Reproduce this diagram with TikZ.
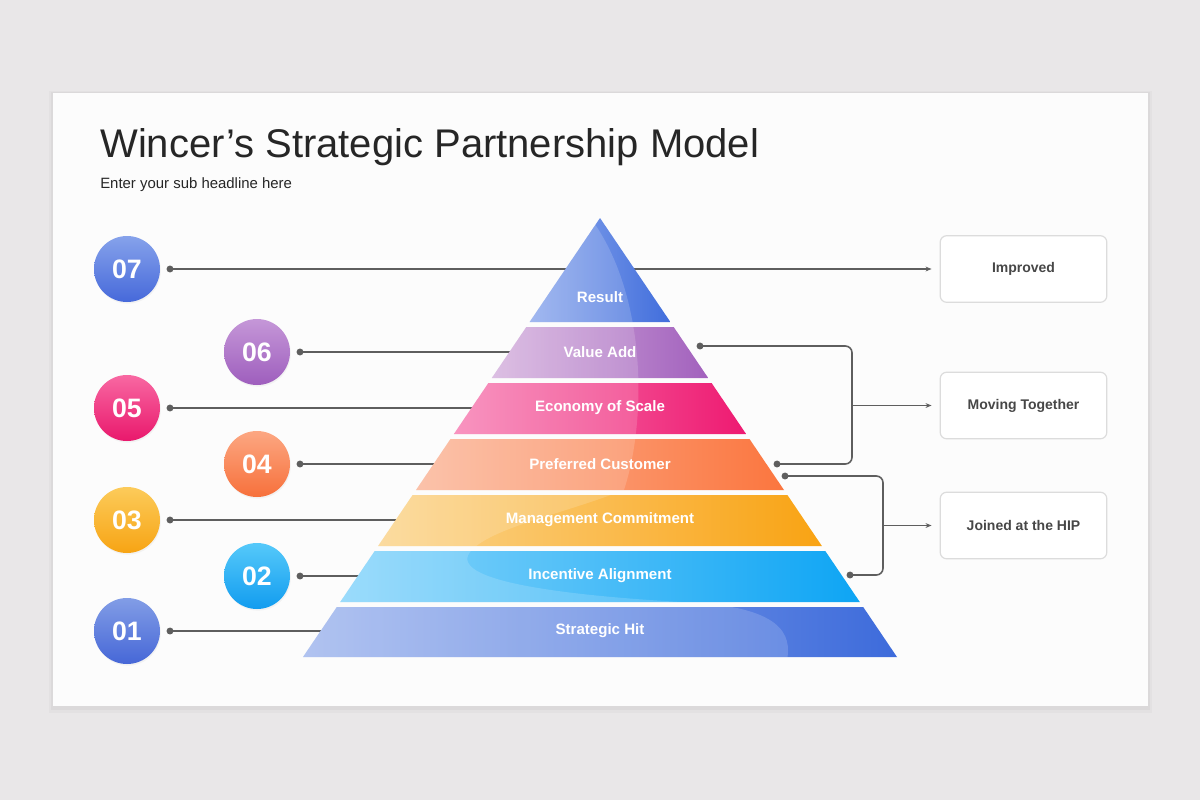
\documentclass[tikz,border=0pt]{standalone}
\usepackage{fontspec}
\setmainfont{Liberation Sans}
\usetikzlibrary{arrows.meta, positioning, shadows}

\definecolor{pagebg}{HTML}{E9E7E8}
\definecolor{titlegray}{HTML}{262626}
\definecolor{linegray}{HTML}{5E5E5E}
\definecolor{boxline}{HTML}{DCDCDC}
\definecolor{boxtext}{HTML}{474747}
% couleurs des etages (clair / fonce)
\definecolor{resL}{HTML}{90ABED}\definecolor{resD}{HTML}{416EDC}
\definecolor{valL}{HTML}{D6B3DE}\definecolor{valD}{HTML}{A261BD}
\definecolor{ecoL}{HTML}{F780B4}\definecolor{ecoD}{HTML}{EE1A71}
\definecolor{prefL}{HTML}{FBB79A}\definecolor{prefD}{HTML}{FB763F}
\definecolor{mgmtL}{HTML}{FBD58E}\definecolor{mgmtD}{HTML}{F9A313}
\definecolor{incL}{HTML}{88D5FB}\definecolor{incD}{HTML}{0EA5F4}
\definecolor{hitL}{HTML}{A2B8EE}\definecolor{hitD}{HTML}{3D6BDB}
% couleurs des pastilles
\definecolor{c7L}{HTML}{86A2EB}\definecolor{c7D}{HTML}{4669DA}
\definecolor{c6L}{HTML}{C597D8}\definecolor{c6D}{HTML}{9E5EBD}
\definecolor{c5L}{HTML}{F868A2}\definecolor{c5D}{HTML}{E9186C}
\definecolor{c4L}{HTML}{FCA782}\definecolor{c4D}{HTML}{F7703B}
\definecolor{c3L}{HTML}{FCCB5A}\definecolor{c3D}{HTML}{F7A414}
\definecolor{c2L}{HTML}{55C9FA}\definecolor{c2D}{HTML}{129CEF}
\definecolor{c1L}{HTML}{829DE6}\definecolor{c1D}{HTML}{4667D7}

\begin{document}
\begin{tikzpicture}[
    x=0.75pt, y=-0.75pt,
    numcirc/.style={circle, minimum size=49.5pt, inner sep=0pt, text=white,
        font=\bfseries\fontsize{20}{20}\selectfont, shading angle=45,
        drop shadow={shadow xshift=0.6pt, shadow yshift=-1.2pt, opacity=0.08}},
    bandtext/.style={text=white, font=\bfseries\fontsize{11.3}{12}\selectfont},
    outbox/.style={rectangle, draw=boxline, line width=0.9pt, rounded corners=5pt, fill=white,
        minimum width=125pt, minimum height=50pt, text=boxtext, font=\bfseries\fontsize{10.5}{12}\selectfont},
    link/.style={draw=linegray, line width=1.2pt},
    arrow/.style={link, -{Stealth[length=4.5pt, width=3.6pt]}, shorten >=6pt},
    dot/.style={fill=linegray}
]

% fond et carte
\fill[pagebg] (0,0) rectangle (1200,800);
\fill[black, opacity=0.025] (49,91) rectangle (1152,713);
\fill[black, opacity=0.03] (51,92) rectangle (1150,710);
\fill[white!99!black] (53,93) rectangle (1148,706);

% titre
\node[anchor=base west, inner sep=0pt, text=titlegray, font=\fontsize{30}{32}\selectfont] (title) at (100,157) {Wincer’s Strategic Partnership Model};
\node[anchor=base west, inner sep=0pt, text=titlegray, font=\fontsize{11.2}{13}\selectfont] (subtitle) at (100,188) {Enter your sub headline here};

% centres des etages
\coordinate (b7) at (600,297);
\coordinate (b6) at (600,352);
\coordinate (b5) at (600,408);
\coordinate (b4) at (600,464);
\coordinate (b3) at (600,520);
\coordinate (b2) at (600,576);
\coordinate (b1) at (600,631);

% points de depart a gauche
\coordinate (d7) at (170,269);
\coordinate (d6) at (300,352);
\coordinate (d5) at (170,408);
\coordinate (d4) at (300,464);
\coordinate (d3) at (170,520);
\coordinate (d2) at (300,576);
\coordinate (d1) at (170,631);

% boites de droite
\node[outbox] (improved) at (1023.5,269) {Improved};
\node[outbox] (moving) at (1023.5,405.5) {Moving Together};
\node[outbox] (joined) at (1023.5,525.5) {Joined at the HIP};

% lignes derriere la pyramide
\draw[arrow] (d7) -- (improved);
\draw[link] (d6) -- (b6);
\draw[link] (d5) -- (b5);
\draw[link] (d4) -- (b4);
\draw[link] (d3) -- (b3);
\draw[link] (d2) -- (b2);
\draw[link] (d1) -- (b1);

% PYRAMIDE
\shade[left color=resL, right color=resD] (600,218) -- (670.4,322) -- (529.6,322) -- cycle;
\shade[left color=valL, right color=valD] (526.3,327) -- (673.7,327) -- (708.2,378) -- (491.8,378) -- cycle;
\shade[left color=ecoL, right color=ecoD] (488.4,383) -- (711.6,383) -- (746.1,434) -- (453.9,434) -- cycle;
\shade[left color=prefL, right color=prefD] (450.5,439) -- (749.5,439) -- (784.0,490) -- (416.0,490) -- cycle;
\shade[left color=mgmtL, right color=mgmtD] (412.6,495) -- (787.4,495) -- (821.9,546) -- (378.1,546) -- cycle;
\shade[left color=incL, right color=incD] (374.7,551) -- (825.3,551) -- (859.8,602) -- (340.2,602) -- cycle;
\shade[left color=hitL, right color=hitD] (336.8,607) -- (863.2,607) -- (897,657) -- (303,657) -- cycle;

% reflet clair
\begin{scope}
\clip (600,218) -- (670.4,322) -- (529.6,322) -- cycle
      (526.3,327) -- (673.7,327) -- (708.2,378) -- (491.8,378) -- cycle
      (488.4,383) -- (711.6,383) -- (746.1,434) -- (453.9,434) -- cycle
      (450.5,439) -- (749.5,439) -- (784.0,490) -- (416.0,490) -- cycle
      (412.6,495) -- (787.4,495) -- (821.9,546) -- (378.1,546) -- cycle
      (374.7,551) -- (825.3,551) -- (859.8,602) -- (340.2,602) -- cycle
      (336.8,607) -- (863.2,607) -- (897,657) -- (303,657) -- cycle;
\fill[white, opacity=0.16] (575,200) .. controls (645,270) and (650,410) .. (624,490)
    .. controls (560,515) and (490,528) .. (470,552)
    .. controls (445,585) and (600,598) .. (700,603)
    .. controls (790,610) and (792,640) .. (786,665) -- (280,665) -- (280,200) -- cycle;
\end{scope}

% textes des etages
\node[bandtext] (l7) at (b7) {Result};
\node[bandtext] (l6) at (b6) {Value Add};
\node[bandtext] (l5) at (b5) {Economy of Scale};
\node[bandtext] (l4) at (b4) {Preferred Customer};
\node[bandtext] (l3) at (b3) {Management Commitment};
\node[bandtext] (l2) at (b2) {Incentive Alignment};
\node[bandtext] (l1) at (b1) {Strategic Hit};

% pastilles numerotees
\node[numcirc, top color=c7L, bottom color=c7D] (c7) at (127,269) {07};
\node[numcirc, top color=c6L, bottom color=c6D] (c6) at (257,352) {06};
\node[numcirc, top color=c5L, bottom color=c5D] (c5) at (127,408) {05};
\node[numcirc, top color=c4L, bottom color=c4D] (c4) at (257,464) {04};
\node[numcirc, top color=c3L, bottom color=c3D] (c3) at (127,520) {03};
\node[numcirc, top color=c2L, bottom color=c2D] (c2) at (257,576) {02};
\node[numcirc, top color=c1L, bottom color=c1D] (c1) at (127,631) {01};

% points
\fill[dot] (d7) circle (2.6pt);
\fill[dot] (d6) circle (2.6pt);
\fill[dot] (d5) circle (2.6pt);
\fill[dot] (d4) circle (2.6pt);
\fill[dot] (d3) circle (2.6pt);
\fill[dot] (d2) circle (2.6pt);
\fill[dot] (d1) circle (2.6pt);

% accolades de droite
\coordinate (r6) at (700,346);
\coordinate (r4) at (777,464);
\coordinate (r4b) at (785,476);
\coordinate (r2) at (850,575);
\coordinate (j1) at (852,405.5);
\coordinate (j2) at (883,525.5);

\draw[link, rounded corners=5pt] (r6) -| (j1) |- (r4);
\draw[link, rounded corners=5pt] (r4b) -| (j2) |- (r2);
\draw[arrow] (j1) -- (moving);
\draw[arrow] (j2) -- (joined);

\fill[dot] (r6) circle (2.6pt);
\fill[dot] (r4) circle (2.6pt);
\fill[dot] (r4b) circle (2.6pt);
\fill[dot] (r2) circle (2.6pt);

\end{tikzpicture}
\end{document}
